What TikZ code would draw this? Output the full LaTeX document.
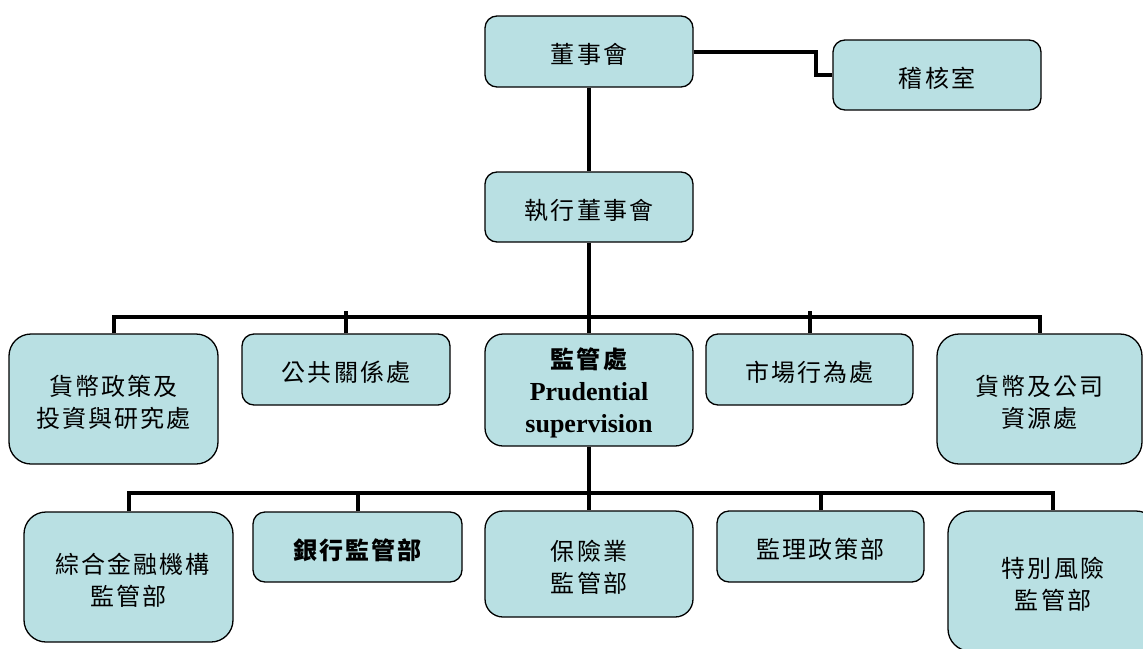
\documentclass[tikz,border=0pt]{standalone}
\usepackage{fontspec}
\setmainfont{Liberation Serif}
\newfontfamily\cjk[LetterSpace=9]{Noto Sans CJK TC}
\definecolor{boxfill}{RGB}{185,224,227}
\newcommand\boxtxt[1]{\raisebox{-6pt}[\height][\depth]{\begin{tabular}{@{}c@{}}#1\end{tabular}}}
\begin{document}
\begin{tikzpicture}[x=1pt,y=-1pt,
  box/.style={draw=black, line width=1.3pt, fill=boxfill, rounded corners=#1,
    inner sep=0pt, font=\fontsize{24pt}{32pt}\selectfont\cjk},
  box/.default=12pt,
  conn/.style={line width=4pt, draw=black, line join=miter},
  bold/.style={font=\fontsize{24pt}{32pt}\selectfont\cjk\bfseries}]
\useasboundingbox (0,0) rectangle (1143,648);
\begin{scope}
\clip (0,0) rectangle (1143,648);
% level 0
\node[box, minimum width=208pt, minimum height=71pt] (b0) at (589,51.5) {\boxtxt{董事會}};
\node[box, minimum width=208pt, minimum height=70pt] (audit) at (937,75) {\boxtxt{稽核室}};
\node[box, minimum width=208pt, minimum height=70pt] (exec) at (589,207) {\boxtxt{執行董事會}};
% level 1
\node[box=22pt, minimum width=209pt, minimum height=130pt] (d1) at (113.5,399) {\boxtxt{貨幣政策及\\投資與研究處}};
\node[box, minimum width=208pt, minimum height=71pt] (d2) at (346,369.5) {\boxtxt{公共關係處}};
\node[box=18pt, minimum width=208pt, minimum height=112pt] (d3) at (589,390)
  {\raisebox{-4pt}[\height][\depth]{\begin{tabular}{@{}c@{}}{\cjk\bfseries 監管處}\\{\rmfamily\bfseries\fontsize{26pt}{31pt}\selectfont Prudential}\\{\rmfamily\bfseries\fontsize{26pt}{31pt}\selectfont supervision}\end{tabular}}};
\node[box, minimum width=207pt, minimum height=71pt] (d4) at (809.5,369.5) {\boxtxt{市場行為處}};
\node[box=22pt, minimum width=205pt, minimum height=130pt] (d5) at (1039.5,399) {\boxtxt{貨幣及公司\\資源處}};
% level 2
\node[box=22pt, minimum width=209pt, minimum height=130pt] (s1) at (128.5,577) {\boxtxt{\hspace*{8pt}綜合金融機構\\監管部}};
\node[box, bold, minimum width=209pt, minimum height=70pt] (s2) at (357.5,547) {\boxtxt{銀行監管部}};
\node[box=18pt, minimum width=208pt, minimum height=106pt] (s3) at (589,564) {\boxtxt{保險業\\監管部}};
\node[box, minimum width=207pt, minimum height=71pt] (s4) at (820.5,546.5) {\boxtxt{監理政策部}};
\node[box=22pt, minimum width=210pt, minimum height=140pt] (s5) at (1053,581) {\boxtxt{特別風險\\監管部}};
% connectors
\coordinate (bus1) at (589,317);
\coordinate (bus2) at (589,493);
\draw[conn] (b0.south) -- (exec.north);
\draw[conn] (b0.east) -- ++(122,0) |- (audit.west);
\draw[conn] (exec.south) -- (d3.north);
\draw[conn] (d1.north) -- (d1.north |- bus1) -- (d5.north |- bus1) -- (d5.north);
\draw[conn] (d2.north) -- ([yshift=6pt]d2.north |- bus1);
\draw[conn] (d4.north) -- ([yshift=6pt]d4.north |- bus1);
\draw[conn] (d3.south) -- (s3.north);
\draw[conn] (s1.north) -- (s1.north |- bus2) -- (s5.north |- bus2) -- (s5.north);
\draw[conn] (s2.north) -- (s2.north |- bus2);
\draw[conn] (s4.north) -- (s4.north |- bus2);
\end{scope}
\end{tikzpicture}
\end{document}
